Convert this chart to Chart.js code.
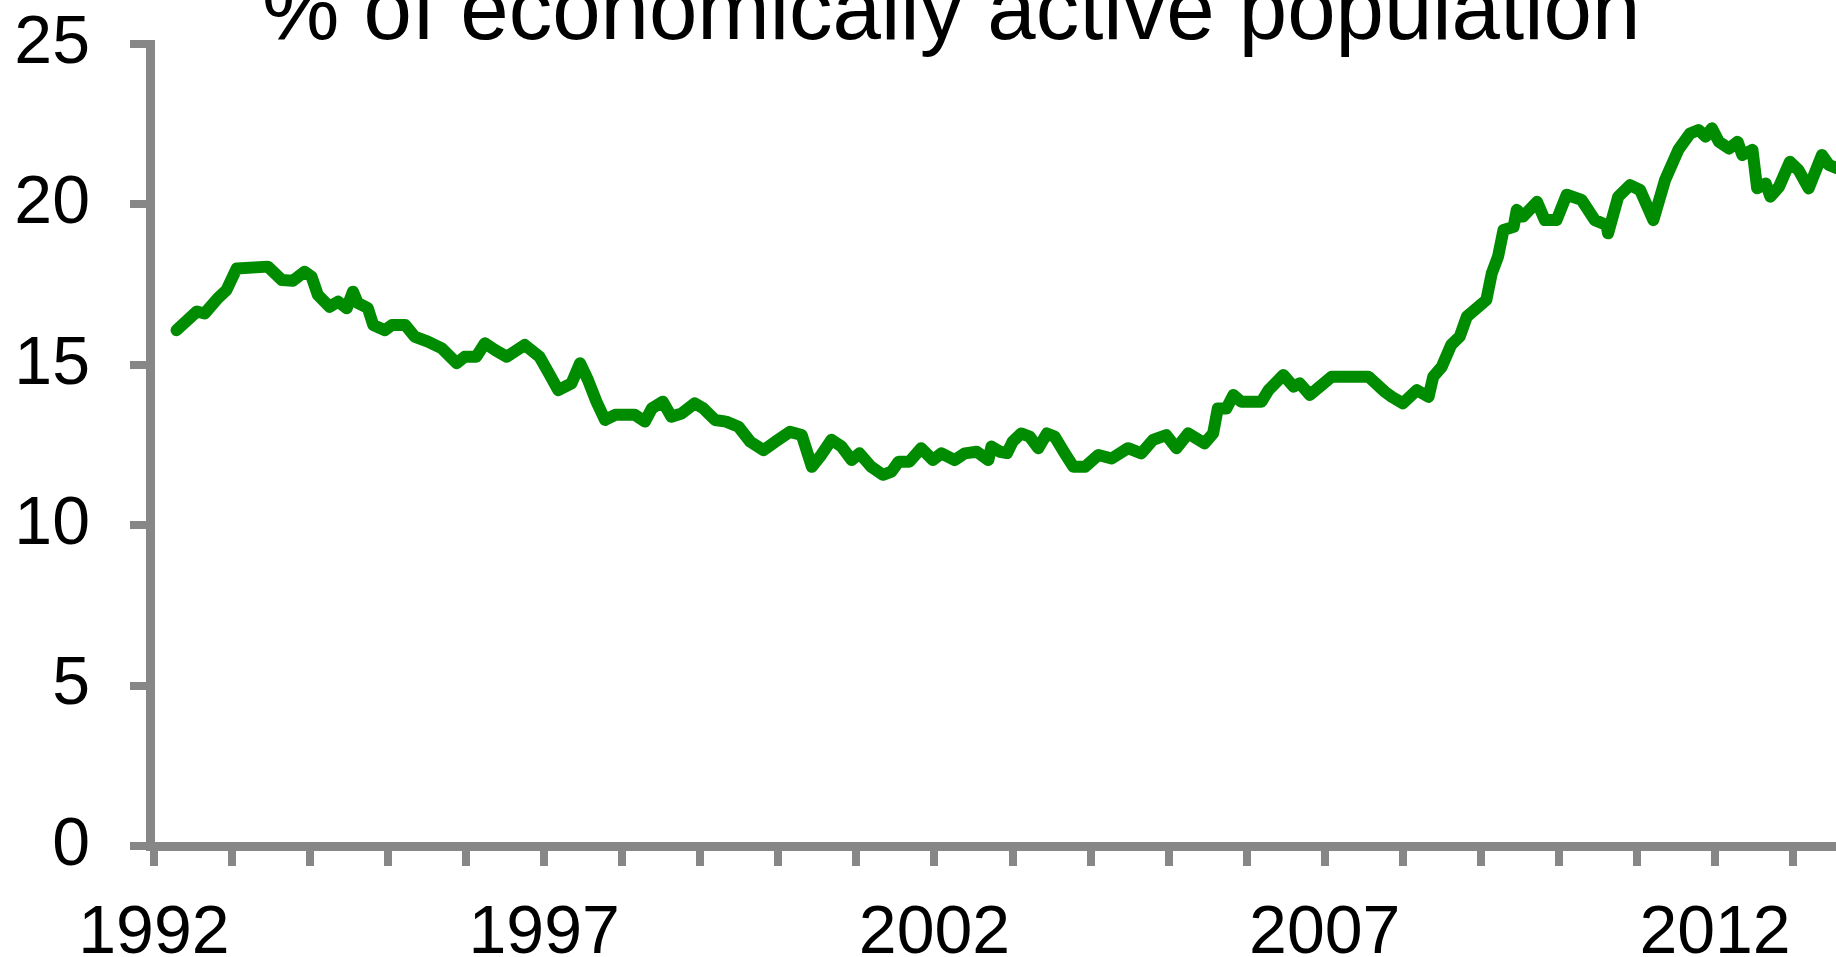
<!DOCTYPE html>
<html>
<head>
<meta charset="utf-8">
<script src="https://cdn.jsdelivr.net/npm/chart.js@4/dist/chart.umd.min.js"></script>
<style>
  html, body { margin: 0; padding: 0; background: #fff; overflow: hidden; }
  #wrap { position: relative; width: 1836px; height: 957px; overflow: hidden; }
  #title {
    position: absolute; left: 262px; top: -35px;
    font: 87px "Liberation Sans", Arial, sans-serif; line-height: 87px;
    white-space: nowrap; color: #000;
  }
</style>
</head>
<body>
<div id="wrap">
  <canvas id="chart"></canvas>
  <div id="title">% of economically active population</div>
</div>
<script>
// SECTION: data
const years = [
  1992.29, 1992.55, 1992.65, 1992.82, 1992.93, 1993.06, 1993.46, 1993.64, 1993.78, 1993.93,
  1994.02, 1994.10, 1994.25, 1994.36, 1994.47, 1994.55, 1994.61, 1994.74, 1994.81, 1994.96,
  1995.05, 1995.22, 1995.34, 1995.51, 1995.69, 1995.88, 1995.98, 1996.13, 1996.24, 1996.37,
  1996.52, 1996.75, 1996.94, 1997.05, 1997.18, 1997.35, 1997.46, 1997.56, 1997.67, 1997.78,
  1997.91, 1998.16, 1998.29, 1998.38, 1998.52, 1998.63, 1998.76, 1998.93, 1999.04, 1999.19,
  1999.33, 1999.49, 1999.64, 1999.81, 1999.96, 2000.15, 2000.30, 2000.43, 2000.55, 2000.68,
  2000.81, 2000.94, 2001.04, 2001.19, 2001.34, 2001.45, 2001.54, 2001.68, 2001.83, 2001.98,
  2002.09, 2002.26, 2002.39, 2002.54, 2002.69, 2002.73, 2002.84, 2002.93, 2003.00, 2003.11,
  2003.22, 2003.33, 2003.44, 2003.54, 2003.67, 2003.78, 2003.93, 2004.10, 2004.27, 2004.48,
  2004.65, 2004.80, 2004.97, 2005.10, 2005.25, 2005.46, 2005.57, 2005.63, 2005.74, 2005.83,
  2005.93, 2006.19, 2006.28, 2006.47, 2006.60, 2006.68, 2006.81, 2007.09, 2007.56, 2007.77,
  2007.86, 2008.00, 2008.18, 2008.33, 2008.39, 2008.50, 2008.62, 2008.73, 2008.82, 2009.07,
  2009.14, 2009.22, 2009.29, 2009.42, 2009.46, 2009.54, 2009.72, 2009.82, 2009.97, 2010.10,
  2010.29, 2010.46, 2010.61, 2010.63, 2010.76, 2010.91, 2011.04, 2011.21, 2011.36, 2011.53,
  2011.68, 2011.79, 2011.88, 2011.96, 2012.05, 2012.18, 2012.29, 2012.35, 2012.48, 2012.54,
  2012.65, 2012.71, 2012.82, 2012.96, 2013.07, 2013.20, 2013.37, 2013.46, 2013.56, 2013.70
];

const rates = [
  16.08, 16.66, 16.60, 17.08, 17.33, 18.00, 18.06, 17.64, 17.62, 17.90,
  17.75, 17.18, 16.81, 16.97, 16.76, 17.28, 16.93, 16.77, 16.24, 16.08,
  16.24, 16.24, 15.88, 15.72, 15.51, 15.05, 15.25, 15.25, 15.67, 15.46,
  15.25, 15.62, 15.25, 14.78, 14.21, 14.42, 15.05, 14.53, 13.85, 13.28,
  13.44, 13.44, 13.23, 13.64, 13.85, 13.38, 13.48, 13.80, 13.64, 13.28,
  13.23, 13.07, 12.60, 12.34, 12.60, 12.91, 12.81, 11.82, 12.19, 12.66,
  12.45, 12.03, 12.24, 11.82, 11.57, 11.67, 11.98, 11.98, 12.40, 12.03,
  12.24, 12.03, 12.24, 12.29, 12.03, 12.45, 12.29, 12.25, 12.60, 12.86,
  12.76, 12.40, 12.86, 12.76, 12.24, 11.82, 11.82, 12.19, 12.08, 12.40,
  12.24, 12.66, 12.81, 12.40, 12.86, 12.55, 12.86, 13.64, 13.64, 14.06,
  13.85, 13.85, 14.21, 14.68, 14.32, 14.42, 14.06, 14.63, 14.63, 14.16,
  14.00, 13.80, 14.21, 14.00, 14.63, 14.94, 15.62, 15.88, 16.50, 17.02,
  17.85, 18.37, 19.20, 19.30, 19.83, 19.62, 20.08, 19.51, 19.51, 20.30,
  20.14, 19.51, 19.36, 19.10, 20.24, 20.60, 20.45, 19.51, 20.76, 21.70,
  22.21, 22.32, 22.11, 22.37, 21.95, 21.74, 21.95, 21.54, 21.70, 20.50,
  20.65, 20.24, 20.55, 21.33, 21.07, 20.50, 21.54, 21.23, 21.13, 21.10
];

const yearTicks = [1992, 1993, 1994, 1995, 1996, 1997, 1998, 1999, 2000, 2001, 2002,
  2003, 2004, 2005, 2006, 2007, 2008, 2009, 2010, 2011, 2012, 2013];
const labelledYears = [1992, 1997, 2002, 2007, 2012];
const valueTicks = [0, 5, 10, 15, 20, 25];

// SECTION: chart
const axisGrey = '#878787';
const tickFont = { family: '"Liberation Sans", Arial, sans-serif', size: 68 };

new Chart(document.getElementById('chart'), {
  type: 'line',
  data: {
    datasets: [{
      data: years.map((year, i) => ({ x: year, y: rates[i] })),
      borderColor: '#008c00',
      borderWidth: 12,
      borderJoinStyle: 'round',
      borderCapStyle: 'round',
      tension: 0,
      pointRadius: 0,
      fill: false
    }]
  },
  options: {
    responsive: true,
    maintainAspectRatio: false,
    animation: false,
    layout: { padding: { top: 44, left: 0, right: 0, bottom: 0 } },
    plugins: {
      legend: { display: false },
      tooltip: { enabled: false },
      title: { display: false }
    },
    scales: {
      x: {
        type: 'linear',
        min: 1991.95,
        max: 2013.55,
        afterBuildTicks: (scale) => { scale.ticks = yearTicks.map(value => ({ value })); },
        afterFit: (scale) => {
          scale.height = 111;
          scale.paddingLeft = 0;
          scale.paddingRight = 0;
        },
        grid: { drawOnChartArea: false, drawTicks: true, tickLength: 20, lineWidth: 8, color: axisGrey },
        border: { display: true, width: 9, color: axisGrey },
        ticks: {
          autoSkip: false,
          maxRotation: 0,
          padding: 27,
          color: '#000',
          font: tickFont,
          callback: (value) => labelledYears.includes(value) ? String(value) : ''
        }
      },
      y: {
        min: 0,
        max: 25,
        afterBuildTicks: (scale) => { scale.ticks = valueTicks.map(value => ({ value })); },
        afterFit: (scale) => {
          scale.width = 150;
          scale.paddingTop = 0;
          scale.paddingBottom = 0;
        },
        grid: { drawOnChartArea: false, drawTicks: true, tickLength: 20, lineWidth: 8, color: axisGrey },
        border: { display: true, width: 9, color: axisGrey },
        ticks: { padding: 40, color: '#000', font: tickFont }
      }
    }
  }
});
</script>
</body>
</html>
